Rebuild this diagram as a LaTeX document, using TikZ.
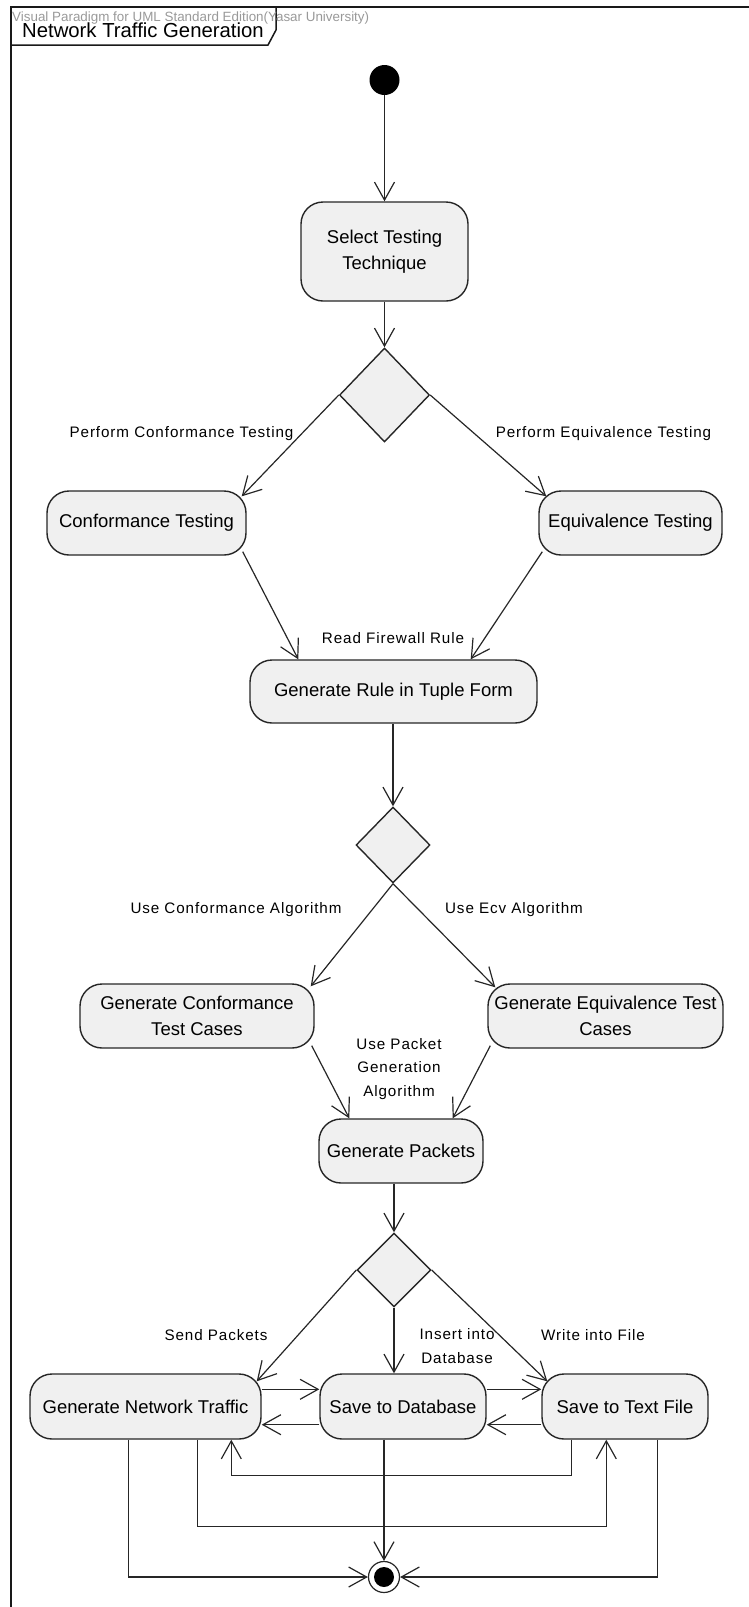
\documentclass[tikz,border=0pt]{standalone}
\usepackage{fontspec}
\setmainfont{Liberation Sans}
\newfontfamily\guardfont[LetterSpace=6]{Liberation Sans}
\usetikzlibrary{arrows.meta,shapes.geometric,calc}

\tikzset{
  flow/.style={draw=black!85, line width=1.2pt,
    -{Straight Barb[length=18pt,width=20pt]}},
  framebox/.style={draw=black!90, line width=1.5pt},
  action/.style={draw=black!85, line width=1.4pt, fill=black!6,
    rounded corners=22pt, align=center, inner sep=0pt,
    font=\fontsize{18.5}{26}\selectfont},
  decision/.style={draw=black!85, line width=1.4pt, fill=black!6,
    diamond, inner sep=0pt},
  guard/.style={inner sep=0pt, align=center,
    font=\guardfont\fontsize{15.2}{23.5}\selectfont},
}

\begin{document}
\begin{tikzpicture}[x=1pt,y=-1pt]
\useasboundingbox (0,0) rectangle (749,1607);

% diagram frame and its name tab
\draw[framebox] (749,7) -- (11,7) -- (11,1607);
\draw[framebox] (11,45) -- (268,45) -- (276,30) -- (276,7);
\node[anchor=base west, inner sep=0pt, text=black!40,
      font=\fontsize{13.4}{15}\selectfont] (edition) at (12,21)
      {Visual Paradigm for UML Standard Edition(Yasar University)};
\node[anchor=base west, inner sep=0pt, font=\fontsize{20.3}{22}\selectfont]
      (title) at (22,37) {Network Traffic Generation};

% start and end
\node[circle, fill=black, minimum size=30pt, inner sep=0pt] (init) at (384.5,80) {};
\node[circle, draw=black!85, line width=1.2pt, fill=white, minimum size=31pt,
      inner sep=0pt] (fin) at (384,1577) {};
\fill[black] (fin.center) circle (10pt);

% actions
\node[action, minimum width=167pt, minimum height=99pt] (sel) at (384.5,251.5)
      {Select Testing\\Technique};
\node[decision, minimum width=90pt, minimum height=94pt] (d1) at (384.5,395) {};
\node[action, minimum width=199pt, minimum height=64pt] (conf) at (146.5,523)
      {Conformance Testing};
\node[action, minimum width=183pt, minimum height=64pt] (equiv) at (630.5,523)
      {Equivalence Testing};
\node[action, minimum width=287pt, minimum height=63pt] (rule) at (393.5,691.5)
      {Generate Rule in Tuple Form};
\node[decision, minimum width=74pt, minimum height=76pt] (d2) at (393,845) {};
\node[action, minimum width=234pt, minimum height=64pt] (gc) at (197,1016)
      {Generate Conformance\\Test Cases};
\node[action, minimum width=235pt, minimum height=64pt] (ge) at (605.5,1016)
      {Generate Equivalence Test\\Cases};
\node[action, minimum width=164pt, minimum height=64pt] (gp) at (401,1151)
      {Generate Packets};
\node[decision, minimum width=74pt, minimum height=74pt] (d3) at (394,1270) {};
\node[action, minimum width=231pt, minimum height=65pt] (gnt) at (145.5,1406.5)
      {Generate Network Traffic};
\node[action, minimum width=166pt, minimum height=65pt] (sdb) at (403,1406.5)
      {Save to Database};
\node[action, minimum width=166pt, minimum height=65pt] (stf) at (625,1406.5)
      {Save to Text File};

% guards
\node[guard] (g1) at (181.5,434) {Perform Conformance Testing};
\node[guard] (g2) at (603.5,434) {Perform Equivalence Testing};
\node[guard] (g3) at (393,638) {Read Firewall Rule};
\node[guard] (g4) at (236,910) {Use Conformance Algorithm};
\node[guard] (g5) at (514,910) {Use Ecv Algorithm};
\node[guard] (g6) at (399,1069) {Use Packet\\Generation\\Algorithm};
\node[guard] (g7) at (216,1335) {Send Packets};
\node[guard] (g8) at (457,1346) {Insert into\\Database};
\node[guard] (g9) at (593,1335) {Write into File};

% control flows
\draw[flow] (init.south) -- (init.south |- sel.north);
\draw[flow] (sel.south -| d1.north) -- (d1.north);
\draw[flow] (d1.west) -- ($(conf.north east)+(-5,6)$);
\draw[flow] (d1.east) -- ($(equiv.north west)+(8,6)$);
\draw[flow] ($(conf.south east)+(-4,-4)$) -- ($(rule.north west)+(49,0)$);
\draw[flow] ($(equiv.south west)+(4,-4)$) -- ($(rule.north east)+(-67,0)$);
\draw[flow] (rule.south -| d2.north) -- (d2.north);
\draw[flow] (d2.south) -- ($(gc.north east)+(-4,3)$);
\draw[flow] (d2.south) -- ($(ge.north west)+(8,4)$);
\draw[flow] ($(gc.south east)+(-3,-3)$) -- ($(gp.north west)+(31,0)$);
\draw[flow] ($(ge.south west)+(3,-3)$) -- ($(gp.north east)+(-31,0)$);
\draw[flow] (gp.south -| d3.north) -- (d3.north);
\draw[flow] (d3.west) -- ($(gnt.north east)+(-5,8)$);
\draw[flow] (d3.south) -- (d3.south |- sdb.north);
\draw[flow] (d3.east) -- ($(stf.north west)+(6,8)$);

% flows between the three output actions
\draw[flow] ($(gnt.north east)+(0,16)$) -- ($(sdb.north west)+(0,16)$);
\draw[flow] ($(sdb.south west)+(0,-15)$) -- ($(gnt.south east)+(0,-15)$);
\draw[flow] ($(sdb.north east)+(0,16)$) -- ($(stf.north west)+(0,16)$);
\draw[flow] ($(stf.south west)+(0,-15)$) -- ($(sdb.south east)+(0,-15)$);
\draw[flow] ($(stf.south west)+(30,0)$) -- ++(0,36) -| ($(gnt.south west)+(202,0)$);
\draw[flow] ($(gnt.south west)+(168,0)$) -- ++(0,87) -| ($(stf.south west)+(65,0)$);

% flows into the final node
\draw[flow] ($(gnt.south west)+(99,0)$) |- (fin.west);
\draw[flow] ($(stf.south east)+(-51,0)$) |- (fin.east);
\draw[flow] (fin.north |- sdb.south) -- (fin.north);
\end{tikzpicture}
\end{document}
